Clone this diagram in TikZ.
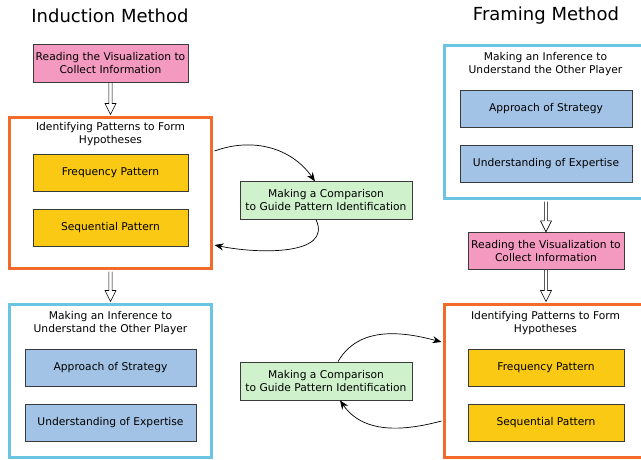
\documentclass[tikz,border=0pt]{standalone}
\usepackage{fontspec}
\setmainfont{DejaVu Sans}
\usetikzlibrary{arrows.meta,calc}
\definecolor{cpink}{HTML}{F49AC1}
\definecolor{cyel}{HTML}{F9C913}
\definecolor{cblue}{HTML}{A3C3E6}
\definecolor{cframeblue}{HTML}{6BC4E2}
\definecolor{corange}{HTML}{F26B2A}
\definecolor{cgreen}{HTML}{CFF2CC}
\definecolor{cborder}{HTML}{3A3A3A}
\tikzset{
  box/.style={draw=cborder, line width=0.8pt, inner sep=0pt, align=center,
    font=\fontsize{10.7}{13}\selectfont, minimum height=37.5pt},
  pinkbox/.style={box, fill=cpink, minimum width=155pt},
  yelbox/.style={box, fill=cyel, minimum width=155pt},
  bluebox/.style={box, fill=cblue, minimum width=171pt},
  greenbox/.style={box, fill=cgreen, minimum width=172pt},
  frameo/.style={draw=corange, line width=3pt, minimum width=202pt, minimum height=151pt, inner sep=0pt},
  frameb/.style={draw=cframeblue, line width=3pt, minimum width=202pt, minimum height=153pt, inner sep=0pt},
  ftitle/.style={align=center, font=\fontsize{10.7}{13}\selectfont, inner sep=0pt},
  bigtitle/.style={font=\fontsize{18}{20}\selectfont, inner sep=0pt},
  dblarrow/.style={draw=black, line width=0.6pt, line join=miter, to path={
    let \p1=(\tikztostart), \p2=(\tikztotarget) in
    (\x1-1.6pt,\y1) -- (\x1-1.6pt,\y2+11pt) -- (\x1-5.5pt,\y2+11pt) -- (\x1,\y2)
    -- (\x1+5.5pt,\y2+11pt) -- (\x1+1.6pt,\y2+11pt) -- (\x1+1.6pt,\y1)}},
  curvearrow/.style={draw=black, line width=0.7pt, -{Stealth[length=9pt, width=7pt]}}
}
\begin{document}
\begin{tikzpicture}[x=1pt,y=-1pt]
\useasboundingbox (0,0) rectangle (641,460);
\clip (0,0) rectangle (641,460);
\fill[white] (0,0) rectangle (641,460);
% titles
\node[bigtitle] (tl) at (110,16) {Induction Method};
\node[bigtitle] (tr) at (546,16) {Framing Method};
% left column
\node[pinkbox] (lread) at (110.5,63.5) {Reading the Visualization to\\Collect Information};
\node[frameo] (lpat) at (110.5,193) {};
\node[ftitle] (lpatt) at (110.5,134.5) {Identifying Patterns to Form\\Hypotheses};
\node[yelbox] (lfreq) at (110.5,173) {Frequency Pattern};
\node[yelbox] (lseq) at (110.5,228) {Sequential Pattern};
\node[frameb] (linf) at (110.5,381) {};
\node[ftitle] (linft) at (110.5,323) {Making an Inference to\\Understand the Other Player};
\node[bluebox] (lapp) at (110.5,368) {Approach of Strategy};
\node[bluebox] (lexp) at (110.5,423) {Understanding of Expertise};
% right column
\node[frameb] (rinf) at (545.5,122) {};
\node[ftitle] (rinft) at (545.5,64.5) {Making an Inference to\\Understand the Other Player};
\node[bluebox, minimum width=172pt] (rapp) at (546,109) {Approach of Strategy};
\node[bluebox, minimum width=172pt] (rexp) at (546,164) {Understanding of Expertise};
\node[pinkbox, minimum width=156pt] (rread) at (546,251) {Reading the Visualization to\\Collect Information};
\node[frameo, minimum height=153pt] (rpat) at (545.5,381) {};
\node[ftitle] (rpatt) at (545.5,323) {Identifying Patterns to Form\\Hypotheses};
\node[yelbox, minimum width=156pt] (rfreq) at (546,368) {Frequency Pattern};
\node[yelbox, minimum width=156pt] (rseq) at (546,423) {Sequential Pattern};
% green boxes
\node[greenbox] (gup) at (326,200.5) {Making a Comparison\\to Guide Pattern Identification};
\node[greenbox, minimum height=38pt] (glo) at (326,381) {Making a Comparison\\to Guide Pattern Identification};
% double arrows
\draw[dblarrow] (lread.south) to ([yshift=1.5pt]lpat.north);
\draw[dblarrow] ([yshift=-1.5pt]lpat.south) to ([yshift=1.5pt]linf.north);
\draw[dblarrow] ([xshift=0.5pt,yshift=-1.5pt]rinf.south) to (rread.north);
\draw[dblarrow] (rread.south) to ([xshift=0.5pt,yshift=1.5pt]rpat.north);
% curved arrows
\draw[curvearrow] ([xshift=1.5pt,yshift=42pt]lpat.east) to[out=20,in=125] ([xshift=-11pt]gup.north);
\draw[curvearrow] ([xshift=-10pt]gup.south) to[out=-65,in=-12] ([xshift=1.5pt,yshift=-52pt]lpat.east);
\draw[curvearrow] ([xshift=12pt]glo.north) to[out=60,in=165] ([xshift=-1.5pt,yshift=39pt]rpat.west);
\draw[curvearrow] ([xshift=-1.5pt,yshift=-40pt]rpat.west) to[out=195,in=-55] ([xshift=14pt]glo.south);
\end{tikzpicture}
\end{document}
